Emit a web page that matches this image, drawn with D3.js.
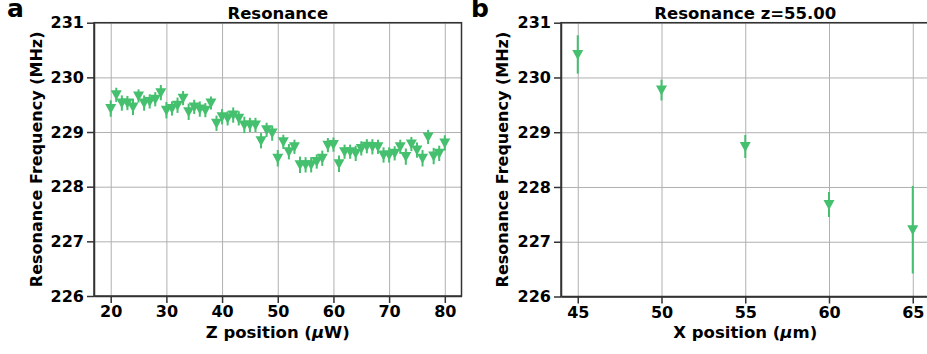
<!DOCTYPE html>
<html>
<head>
  <title>Resonance</title>
  <script src="https://cdnjs.cloudflare.com/ajax/libs/d3/7.8.5/d3.min.js"></script>
  <style>
  body { margin: 0; background: #fff; }
  svg { font-family: "DejaVu Sans", sans-serif; font-weight: bold; }
  .grid line { stroke: #b0b0b0; stroke-width: 1; }
  .grid .domain { display: none; }
  .axis text { font-size: 16px; font-weight: bold; fill: #000; font-family: "DejaVu Sans", sans-serif; }
  .axis line, .axis .domain { stroke: #333; stroke-width: 1.5; }
  </style>
</head>
<body>
<script>

// panel a: resonance vs Z position
var zPos = [20, 21, 22, 23, 24, 25, 26, 27, 28, 29,
            30, 31, 32, 33, 34, 35, 36, 37, 38, 39,
            40, 41, 42, 43, 44, 45, 46, 47, 48, 49,
            50, 51, 52, 53, 54, 55, 56, 57, 58, 59,
            60, 61, 62, 63, 64, 65, 66, 67, 68, 69,
            70, 71, 72, 73, 74, 75, 76, 77, 78, 79, 80];
var zFreq = [229.43, 229.68, 229.53, 229.53, 229.46, 229.66, 229.53, 229.56, 229.60, 229.72,
             229.40, 229.43, 229.49, 229.62, 229.37, 229.46, 229.42, 229.40, 229.53, 229.16,
             229.28, 229.25, 229.31, 229.25, 229.13, 229.13, 229.13, 228.84, 229.04, 228.98,
             228.52, 228.82, 228.64, 228.73, 228.40, 228.40, 228.40, 228.46, 228.52, 228.76,
             228.77, 228.42, 228.64, 228.64, 228.61, 228.70, 228.74, 228.73, 228.73, 228.58,
             228.58, 228.61, 228.73, 228.55, 228.78, 228.67, 228.52, 228.91, 228.56, 228.61, 228.80];
var zErr = [0.15, 0.13, 0.14, 0.13, 0.15, 0.12, 0.14, 0.13, 0.13, 0.14,
            0.15, 0.13, 0.14, 0.13, 0.15, 0.13, 0.14, 0.13, 0.12, 0.14,
            0.14, 0.13, 0.14, 0.13, 0.15, 0.13, 0.13, 0.14, 0.13, 0.14,
            0.15, 0.13, 0.14, 0.13, 0.15, 0.14, 0.14, 0.13, 0.14, 0.13,
            0.13, 0.15, 0.13, 0.13, 0.14, 0.13, 0.13, 0.14, 0.13, 0.14,
            0.14, 0.13, 0.13, 0.15, 0.13, 0.14, 0.15, 0.13, 0.15, 0.14, 0.14];

// panel b: resonance vs X position at z=55
var xPos = [45, 50, 55, 60, 65];
var xFreq = [230.42, 229.77, 228.74, 227.68, 227.22];
var xErr = [0.35, 0.19, 0.21, 0.23, 0.8];

var yTicks = [226, 227, 228, 229, 230, 231];
var zTicks = [20, 30, 40, 50, 60, 70, 80];
var xTicks = [45, 50, 55, 60, 65];

var width = 927, height = 354;
var color = "#45c06e";

var svg = d3.select("body").append("svg")
    .attr("width", width)
    .attr("height", height);

function panel(opts) {
  var x = d3.scaleLinear().domain(opts.xDomain).range([opts.left, opts.right]);
  var y = d3.scaleLinear().domain([226, 231]).range([opts.bottom, opts.top]);

  // grid
  svg.append("g").attr("class", "grid")
      .attr("transform", "translate(0," + opts.bottom + ")")
      .call(d3.axisBottom(x).tickValues(opts.xTicks).tickSize(-(opts.bottom - opts.top)).tickFormat(""));
  svg.append("g").attr("class", "grid")
      .attr("transform", "translate(" + opts.left + ",0)")
      .call(d3.axisLeft(y).tickValues(yTicks).tickSize(-(opts.right - opts.left)).tickFormat(""));

  // error bars
  var pts = opts.xs.map(function(d, i) { return {x: d, y: opts.ys[i], e: opts.es[i]}; });
  svg.append("g").selectAll("line")
      .data(pts)
      .enter().append("line")
      .attr("x1", function(d) { return x(d.x); })
      .attr("x2", function(d) { return x(d.x); })
      .attr("y1", function(d) { return y(d.y - d.e); })
      .attr("y2", function(d) { return y(d.y + d.e); })
      .attr("stroke", color)
      .attr("stroke-width", 2);

  // triangle-down markers
  svg.append("g").selectAll("path")
      .data(pts)
      .enter().append("path")
      .attr("transform", function(d) { return "translate(" + x(d.x) + "," + y(d.y) + ")"; })
      .attr("d", "M-5.5,-4.5L5.5,-4.5L0,5.5Z")
      .attr("fill", color);

  // frame
  svg.append("rect")
      .attr("x", opts.left).attr("y", opts.top)
      .attr("width", opts.right - opts.left)
      .attr("height", opts.bottom - opts.top)
      .attr("fill", "none")
      .attr("stroke", "#333")
      .attr("stroke-width", 1.5);

  svg.append("g").attr("class", "axis")
      .attr("transform", "translate(0," + opts.bottom + ")")
      .call(d3.axisBottom(x).tickValues(opts.xTicks).tickFormat(d3.format("d"))
        .tickSize(7).tickPadding(3).tickSizeOuter(0));
  svg.append("g").attr("class", "axis")
      .attr("transform", "translate(" + opts.left + ",0)")
      .call(d3.axisLeft(y).tickValues(yTicks).tickFormat(d3.format("d"))
        .tickSize(7).tickPadding(3).tickSizeOuter(0));

  svg.append("text")
      .attr("x", (opts.left + opts.right) / 2)
      .attr("y", 19)
      .attr("text-anchor", "middle")
      .attr("font-size", "16.5px")
      .text(opts.title);

  var xl = svg.append("text")
      .attr("x", (opts.left + opts.right) / 2)
      .attr("y", 338)
      .attr("text-anchor", "middle")
      .attr("font-size", "16.5px");
  xl.append("tspan").text(opts.xLabel[0]);
  xl.append("tspan").attr("font-style", "italic").text("\u03bc");
  xl.append("tspan").text(opts.xLabel[1]);

  svg.append("text")
      .attr("transform", "translate(" + opts.yLabelX + "," + ((opts.top + opts.bottom) / 2) + ") rotate(-90)")
      .attr("text-anchor", "middle")
      .attr("font-size", "16px")
      .text("Resonance Frequency (MHz)");

  svg.append("text")
      .attr("x", opts.letterX)
      .attr("y", 17)
      .attr("font-size", "25px")
      .text(opts.letter);
}

panel({
  left: 94, right: 461.5, top: 22.7, bottom: 296,
  xDomain: [17, 83], xTicks: zTicks,
  xs: zPos, ys: zFreq, es: zErr,
  title: "Resonance", xLabel: ["Z position (", "W)"],
  yLabelX: 42, letter: "a", letterX: 7
});

panel({
  left: 561, right: 929.5, top: 22.7, bottom: 296.5,
  xDomain: [44, 66], xTicks: xTicks,
  xs: xPos, ys: xFreq, es: xErr,
  title: "Resonance z=55.00", xLabel: ["X position (", "m)"],
  yLabelX: 508, letter: "b", letterX: 471
});

</script>
</body>
</html>
